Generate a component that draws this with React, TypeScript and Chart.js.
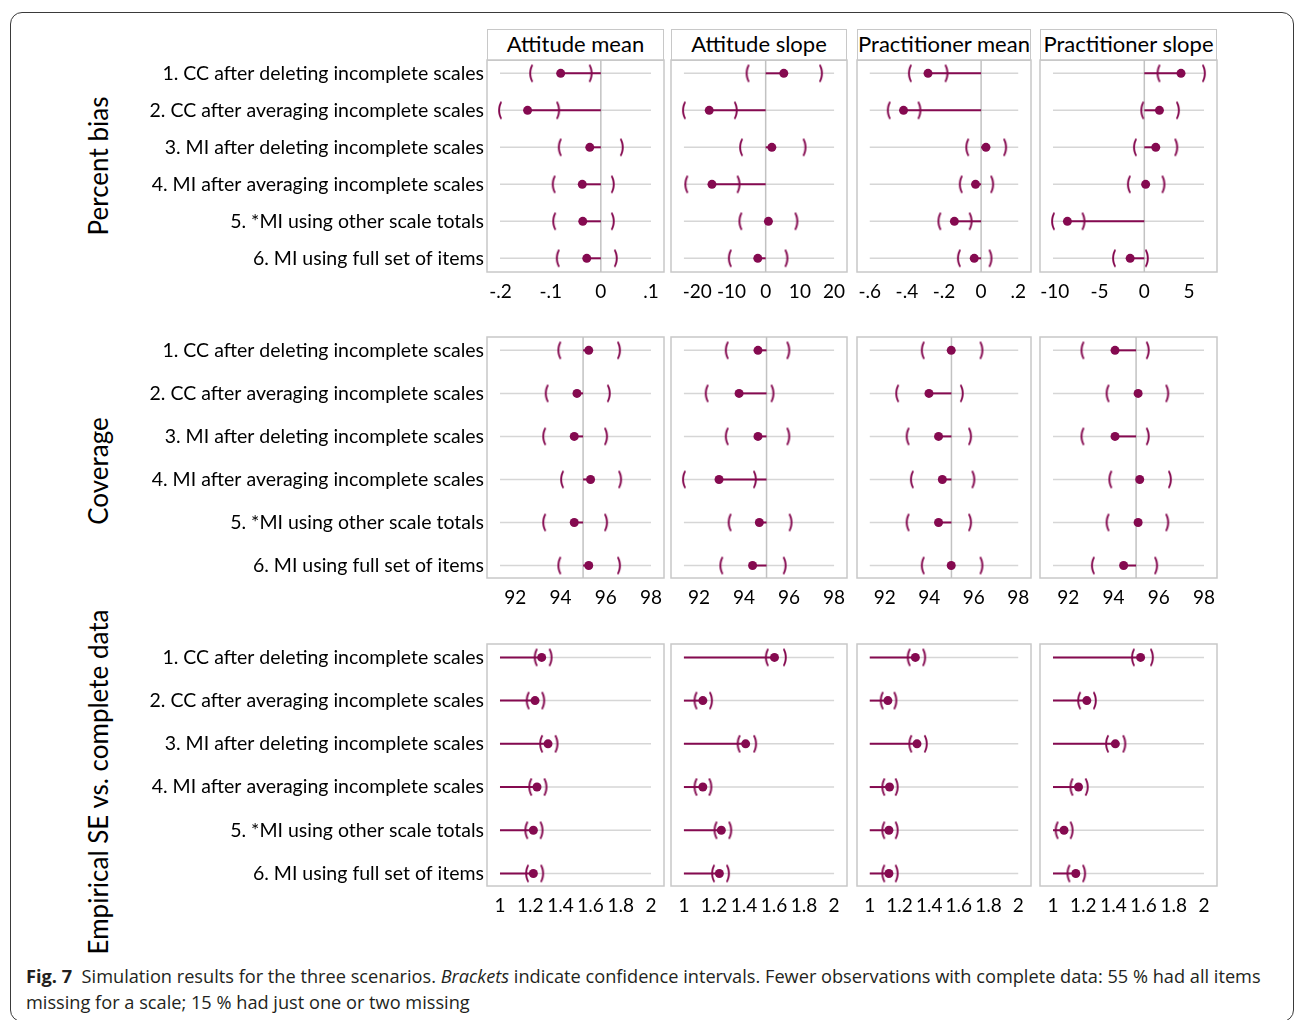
import React, { useEffect, useRef } from "react";
import { Chart, registerables } from "chart.js";

Chart.register(...registerables);

// ---------------- data ----------------
const METHODS = [
  "1. CC after deleting incomplete scales",
  "2. CC after averaging incomplete scales",
  "3. MI after deleting incomplete scales",
  "4. MI after averaging incomplete scales",
  "5. *MI using other scale totals",
  "6. MI using full set of items",
];
const PARAMS = ["Attitude mean", "Attitude slope", "Practitioner mean", "Practitioner slope"];
const MEASURES = ["Percent bias", "Coverage", "Empirical SE vs. complete data"];
const REFERENCE = [0, 95, 1];
const SHOW_REF_LINE = [true, true, false];

// each entry: [estimate, lower CI, upper CI]
const biasAttitudeMean = [[-0.080, -0.139, -0.020], [-0.146, -0.201, -0.085], [-0.022, -0.082, 0.042], [-0.037, -0.094, 0.024], [-0.036, -0.093, 0.024], [-0.028, -0.086, 0.030]];
const biasAttitudeSlope = [[5.3, -5.3, 16.2], [-16.5, -23.9, -8.7], [1.8, -7.2, 11.4], [-15.7, -23.2, -7.9], [0.8, -7.4, 9.0], [-2.3, -10.5, 6.1]];
const biasPractMean = [[-0.286, -0.384, -0.186], [-0.418, -0.498, -0.332], [0.026, -0.075, 0.130], [-0.030, -0.110, 0.060], [-0.144, -0.225, -0.056], [-0.037, -0.120, 0.051]];
const biasPractSlope = [[4.10, 1.58, 6.67], [1.69, -0.23, 3.77], [1.28, -1.05, 3.58], [0.15, -1.73, 2.15], [-8.59, -10.2, -6.78], [-1.58, -3.39, 0.30]];

const covAttitudeMean = [[95.25, 93.95, 96.59], [94.73, 93.39, 96.14], [94.61, 93.28, 96.02], [95.33, 94.07, 96.64], [94.61, 93.28, 96.02], [95.25, 93.95, 96.59]];
const covAttitudeSlope = [[94.62, 93.23, 95.97], [93.78, 92.34, 95.27], [94.62, 93.23, 95.97], [92.89, 91.33, 94.49], [94.68, 93.36, 96.07], [94.38, 92.99, 95.81]];
const covPractMean = [[94.99, 93.71, 96.35], [93.99, 92.56, 95.47], [94.42, 93.03, 95.84], [94.59, 93.22, 95.99], [94.42, 93.03, 95.84], [94.99, 93.71, 96.35]];
const covPractSlope = [[94.07, 92.63, 95.52], [95.09, 93.74, 96.38], [94.07, 92.63, 95.52], [95.16, 93.86, 96.50], [95.09, 93.74, 96.38], [94.45, 93.09, 95.89]];

const seAttitudeMean = [[1.276, 1.236, 1.336], [1.232, 1.183, 1.287], [1.318, 1.272, 1.375], [1.245, 1.200, 1.302], [1.221, 1.174, 1.276], [1.221, 1.179, 1.280]];
const seAttitudeSlope = [[1.603, 1.552, 1.673], [1.126, 1.077, 1.181], [1.411, 1.364, 1.475], [1.126, 1.077, 1.177], [1.249, 1.210, 1.309], [1.236, 1.194, 1.294]];
const sePractMean = [[1.307, 1.262, 1.367], [1.122, 1.080, 1.173], [1.318, 1.273, 1.378], [1.133, 1.091, 1.182], [1.129, 1.091, 1.182], [1.129, 1.091, 1.182]];
const sePractSlope = [[1.580, 1.529, 1.656], [1.224, 1.173, 1.278], [1.413, 1.358, 1.473], [1.169, 1.122, 1.224], [1.073, 1.024, 1.124], [1.151, 1.102, 1.207]];

const PANEL_DATA = [
  [biasAttitudeMean, biasAttitudeSlope, biasPractMean, biasPractSlope],
  [covAttitudeMean, covAttitudeSlope, covPractMean, covPractSlope],
  [seAttitudeMean, seAttitudeSlope, sePractMean, sePractSlope],
];

// tick values and labels
const biasTicks = [[-0.2, -0.1, 0, 0.1], [-20, -10, 0, 10, 20], [-0.6, -0.4, -0.2, 0, 0.2], [-10, -5, 0, 5]];
const biasTickLabels = [["-.2", "-.1", "0", ".1"], ["-20", "-10", "0", "10", "20"], ["-.6", "-.4", "-.2", "0", ".2"], ["-10", "-5", "0", "5"]];
const coverageTicks = [92, 94, 96, 98];
const coverageTickLabels = ["92", "94", "96", "98"];
const seTicks = [1, 1.2, 1.4, 1.6, 1.8, 2];
const seTickLabels = ["1", "1.2", "1.4", "1.6", "1.8", "2"];

// axis extents (range covered by the row guide lines)
const biasRanges = [[-0.201, 0.1], [-23.9, 20], [-0.6, 0.2], [-10.2, 6.67]];
const coverageRange = [91.33, 98];
const seRange = [1, 2];

// ---------------- layout / style ----------------
const MAIN = "#850a50";
const GRID = "#d6d6d6";
const REFC = "#c2c2c2";
const BOXC = "#c8c8c8";
const FONT = "Lato";
const COL_X = [[487, 664], [671, 847], [857, 1031], [1040, 1217]];
const ROW_Y = [[60, 272], [337, 578], [644, 886]];
const Y_RANGE = [[0.64, 6.37], [0.69, 6.29], [0.69, 6.29]];
const Y_LABEL_W = 360;
const SIDE = 15;
const TOP = 2;
const XAXIS_H = 40;
const PAD_FRAC = 0.086;

function ticksFor(r: number, c: number) {
  if (r === 0) return { vals: biasTicks[c], labels: biasTickLabels[c], range: biasRanges[c] };
  if (r === 1) return { vals: coverageTicks, labels: coverageTickLabels, range: coverageRange };
  return { vals: seTicks, labels: seTickLabels, range: seRange };
}

function bracketImage(ch: string) {
  const cv = document.createElement("canvas");
  cv.width = 12;
  cv.height = 26;
  const ctx = cv.getContext("2d")!;
  ctx.fillStyle = MAIN;
  ctx.font = `bold 18px ${FONT}`;
  ctx.textAlign = "center";
  ctx.textBaseline = "middle";
  ctx.fillText(ch, 6, 13);
  return cv;
}

const boxPlugin = {
  id: "panelBox",
  beforeDatasetsDraw(chart: any) {
    const { ctx, chartArea: a } = chart;
    ctx.save();
    ctx.strokeStyle = BOXC;
    ctx.lineWidth = 1.5;
    ctx.strokeRect(a.left, a.top, a.right - a.left, a.bottom - a.top);
    ctx.restore();
  },
};

function Panel({ r, c }: { r: number; c: number }) {
  const ref = useRef<HTMLCanvasElement>(null);
  const [x0, x1] = COL_X[c];
  const [y0, y1] = ROW_Y[r];
  const yW = c === 0 ? Y_LABEL_W : 0;
  const left = x0 - SIDE - yW;
  const width = SIDE + yW + (x1 - x0) + SIDE;
  const top = y0 - TOP;
  const height = TOP + (y1 - y0) + XAXIS_H;

  useEffect(() => {
    const rows = PANEL_DATA[r][c];
    const { vals, labels, range } = ticksFor(r, c);
    const span = range[1] - range[0];
    const xmin = range[0] - PAD_FRAC * span;
    const xmax = range[1] + PAD_FRAC * span;
    const [ymin, ymax] = Y_RANGE[r];
    const refV = REFERENCE[r];
    const openImg = bracketImage("(");
    const closeImg = bracketImage(")");

    const datasets: any[] = [];
    datasets.push({
      data: rows.map((d, i) => ({ x: d[1], y: i + 1 })),
      pointStyle: openImg,
      pointRadius: 6,
      showLine: false,
      order: 0,
    });
    datasets.push({
      data: rows.map((d, i) => ({ x: d[2], y: i + 1 })),
      pointStyle: closeImg,
      pointRadius: 6,
      showLine: false,
      order: 0,
    });
    datasets.push({
      data: rows.map((d, i) => ({ x: d[0], y: i + 1 })),
      pointRadius: 4.5,
      pointBackgroundColor: MAIN,
      pointBorderWidth: 0,
      showLine: false,
      order: 1,
    });
    rows.forEach((d, i) => {
      datasets.push({
        data: [{ x: refV, y: i + 1 }, { x: d[0], y: i + 1 }],
        showLine: true,
        borderColor: MAIN,
        borderWidth: 2,
        pointRadius: 0,
        order: 2,
      });
    });
    if (SHOW_REF_LINE[r]) {
      datasets.push({
        data: [{ x: refV, y: ymin }, { x: refV, y: ymax }],
        showLine: true,
        borderColor: REFC,
        borderWidth: 1.5,
        pointRadius: 0,
        order: 3,
      });
    }
    rows.forEach((_, i) => {
      datasets.push({
        data: [{ x: range[0], y: i + 1 }, { x: range[1], y: i + 1 }],
        showLine: true,
        borderColor: GRID,
        borderWidth: 1.5,
        pointRadius: 0,
        order: 4,
      });
    });

    const chart = new Chart(ref.current!, {
      type: "scatter",
      data: { datasets },
      plugins: [boxPlugin],
      options: {
        animation: false,
        responsive: false,
        devicePixelRatio: 1,
        events: [],
        layout: { autoPadding: false, padding: { left: SIDE, right: SIDE, top: TOP, bottom: 0 } },
        plugins: { legend: { display: false }, tooltip: { enabled: false } },
        scales: {
          x: {
            type: "linear",
            min: xmin,
            max: xmax,
            afterBuildTicks: (s: any) => {
              s.ticks = vals.map((v) => ({ value: v }));
            },
            afterFit: (s: any) => {
              s.height = XAXIS_H;
              s.paddingLeft = 0;
              s.paddingRight = 0;
            },
            ticks: {
              autoSkip: false,
              maxRotation: 0,
              padding: 8,
              color: "#000",
              font: { family: FONT, size: 19 },
              callback: (_v: any, i: number) => labels[i],
            },
            grid: { display: false, drawTicks: false },
            border: { display: false },
          },
          y: {
            type: "linear",
            min: ymin,
            max: ymax,
            reverse: true,
            display: c === 0,
            afterBuildTicks: (s: any) => {
              s.ticks = METHODS.map((_, i) => ({ value: i + 1 }));
            },
            afterFit: (s: any) => {
              s.width = yW;
              s.paddingTop = 0;
              s.paddingBottom = 0;
            },
            ticks: {
              autoSkip: false,
              padding: 3,
              color: "#000",
              font: { family: FONT, size: 19.5 },
              callback: (_v: any, i: number) => METHODS[i],
            },
            grid: { display: false, drawTicks: false },
            border: { display: false },
          },
        },
      } as any,
    });
    return () => chart.destroy();
  }, [r, c]);

  return (
    <canvas
      ref={ref}
      width={width}
      height={height}
      style={{ position: "absolute", left, top, width, height }}
    />
  );
}

const ROW_TITLE_POS = [[98, 166], [98, 471], [98, 782]];

export default function App() {
  const panels: JSX.Element[] = [];
  for (let r = 0; r < 3; r++) for (let c = 0; c < 4; c++) panels.push(<Panel key={`${r}-${c}`} r={r} c={c} />);
  return (
    <div
      style={{
        position: "absolute",
        left: 0,
        top: 0,
        width: 1295,
        height: 1020,
        background: "#fff",
        overflow: "hidden",
        fontFamily: FONT,
      }}
    >
      <div
        style={{
          position: "absolute",
          left: 10,
          top: 12,
          width: 1284,
          height: 1010,
          border: "1.5px solid #3a3a3a",
          borderRadius: 12,
          boxSizing: "border-box",
        }}
      />
      {MEASURES.map((m, r) => (
        <div
          key={m}
          style={{
            position: "absolute",
            left: ROW_TITLE_POS[r][0],
            top: ROW_TITLE_POS[r][1],
            transform: "translate(-50%, -50%) rotate(-90deg)",
            whiteSpace: "nowrap",
            fontSize: 26,
            color: "#000",
          }}
        >
          {m}
        </div>
      ))}
      {PARAMS.map((p, c) => (
        <div
          key={p}
          style={{
            position: "absolute",
            left: COL_X[c][0],
            top: 29,
            width: COL_X[c][1] - COL_X[c][0],
            height: 32,
            border: `1.5px solid ${BOXC}`,
            boxSizing: "border-box",
            textAlign: "center",
            fontSize: 22,
            lineHeight: "28px",
            color: "#000",
            whiteSpace: "nowrap",
          }}
        >
          {p}
        </div>
      ))}
      {panels}
      <div
        style={{
          position: "absolute",
          left: 26,
          top: 963,
          fontFamily: "'Open Sans'",
          fontSize: 18.2,
          lineHeight: "26px",
          color: "#231f20",
          whiteSpace: "nowrap",
        }}
      >
        <b>Fig. 7</b>&nbsp;&nbsp;Simulation results for the three scenarios. <i>Brackets</i> indicate confidence
        intervals. Fewer observations with complete data: 55 % had all items
        <br />
        missing for a scale; 15 % had just one or two missing
      </div>
    </div>
  );
}
